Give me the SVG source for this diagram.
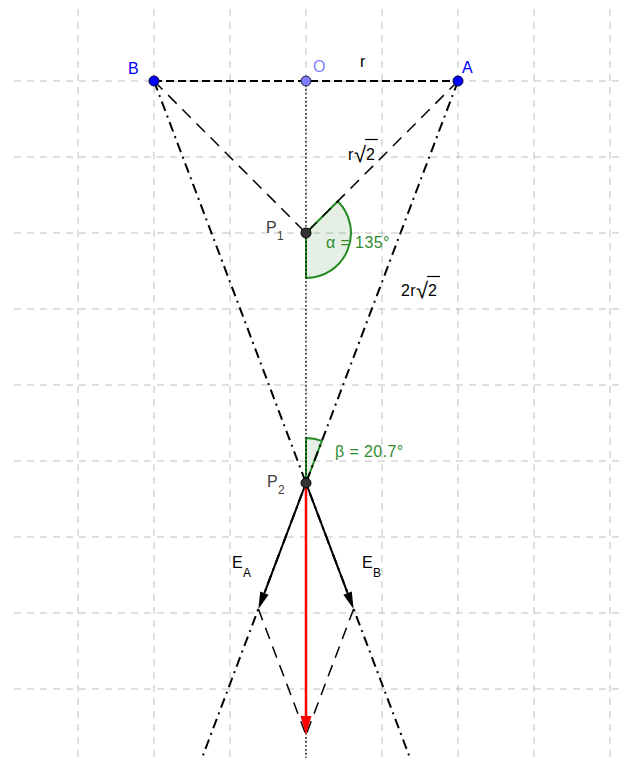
<svg xmlns="http://www.w3.org/2000/svg" width="622" height="758" viewBox="0 0 622 758">
<style>
.grid{stroke:#c0c0c0;stroke-width:1;stroke-dasharray:7,6;fill:none}
.seg{stroke:#000;stroke-width:2;stroke-dasharray:8,4;fill:none}
.dash{stroke:#000;stroke-width:1.5;stroke-dasharray:12,8;fill:none}
.dashdot{stroke:#000;stroke-width:2;stroke-dasharray:10,5,2,5;fill:none}
.dot{stroke:#000;stroke-width:1.4;stroke-dasharray:1.4,2.6;fill:none}
.vec{stroke:#000;stroke-width:2;fill:none}
.red{stroke:#ff0000;stroke-width:2.5;fill:none}
.ang{fill:#006400;fill-opacity:0.1;stroke:#228b22;stroke-width:2}
text{font-family:"Liberation Sans",Arial,sans-serif;font-size:16px;letter-spacing:0.4px}
.blue{fill:#0000ff}
.lblue{fill:#7f7fff}
.gray{fill:#404040}
.green{fill:#2e8b2e}
.sub{font-size:12px}
.rad{font-size:22px}
</style>
<rect width="622" height="758" fill="#ffffff"/>
<g id="grid">
<path class="grid" d="M78,9V758M154,9V758M230,9V758M306,9V758M382,9V758M458,9V758M534,9V758M610,9V758"/>
<path class="grid" d="M14,81H622M14,157H622M14,233H622M14,309H622M14,385H622M14,461H622M14,537H622M14,613H622M14,689H622"/>
</g>
<g id="angles">
<path id="alpha" class="ang" d="M306,233 L306,278 A45,45 0 0 0 337.8,201.2 Z"/>
<path id="beta" class="ang" d="M306,483 L306,438 A45,45 0 0 1 321.9,440.9 Z"/>
</g>
<g id="connectors">
<line class="dot" x1="306" y1="81" x2="306" y2="758"/>
<line class="seg" x1="154" y1="81" x2="458" y2="81"/>
<line class="dash" x1="154" y1="81" x2="306" y2="233"/>
<line class="dash" x1="458" y1="81" x2="306" y2="233"/>
<line class="dashdot" x1="458" y1="81" x2="202" y2="758"/>
<line class="dashdot" x1="154" y1="81" x2="410" y2="758"/>
<line class="dash" x1="258.4" y1="609" x2="306" y2="735"/>
<line class="dash" x1="353.6" y1="609" x2="306" y2="735"/>
<line class="vec" x1="306" y1="483" x2="264.4" y2="593.1"/>
<polygon fill="#000" points="258.4,609 268.6,594.7 260.2,591.5"/>
<line class="vec" x1="306" y1="483" x2="347.6" y2="593.1"/>
<polygon fill="#000" points="353.6,609 343.4,594.7 351.8,591.5"/>
<line class="red" x1="306" y1="483" x2="306" y2="718"/>
<polygon fill="#ff0000" points="306,735 300.5,716 311.5,716"/>
</g>
<g id="B"><circle cx="154" cy="81" r="5" fill="#0000ff" stroke="#000033" stroke-width="1"/><text class="blue" x="128" y="74">B</text></g>
<g id="O"><circle cx="306" cy="81" r="5" fill="#7d7dff" stroke="#202040" stroke-width="1"/><text class="lblue" x="313" y="72">O</text></g>
<g id="A"><circle cx="458" cy="81" r="5" fill="#0000ff" stroke="#000033" stroke-width="1"/><text class="blue" x="462" y="73">A</text></g>
<g id="P1"><circle cx="306" cy="233" r="5" fill="#333333" stroke="#000" stroke-width="1"/><text class="gray" x="266" y="233">P<tspan class="sub" dy="7">1</tspan></text></g>
<g id="P2"><circle cx="306" cy="483" r="5" fill="#333333" stroke="#000" stroke-width="1"/><text class="gray" x="267" y="487">P<tspan class="sub" dy="7">2</tspan></text></g>
<g id="labels">
<text x="360" y="67">r</text>
<text x="348" y="160">r<tspan class="rad" x="354" y="162">√</tspan><tspan x="366" y="160">2</tspan></text>
<line x1="365" y1="139.5" x2="378" y2="139.5" stroke="#000" stroke-width="1.2"/>
<text x="401" y="296">2r<tspan class="rad" x="416" y="298">√</tspan><tspan x="428" y="296">2</tspan></text>
<line x1="427" y1="276.5" x2="440" y2="276.5" stroke="#000" stroke-width="1.2"/>
<text class="green" x="326" y="248">α = 135°</text>
<text class="green" x="335" y="457">β = 20.7°</text>
<text x="232" y="568">E<tspan class="sub" dy="9">A</tspan></text>
<text x="362" y="568">E<tspan class="sub" dy="9">B</tspan></text>
</g>
</svg>
